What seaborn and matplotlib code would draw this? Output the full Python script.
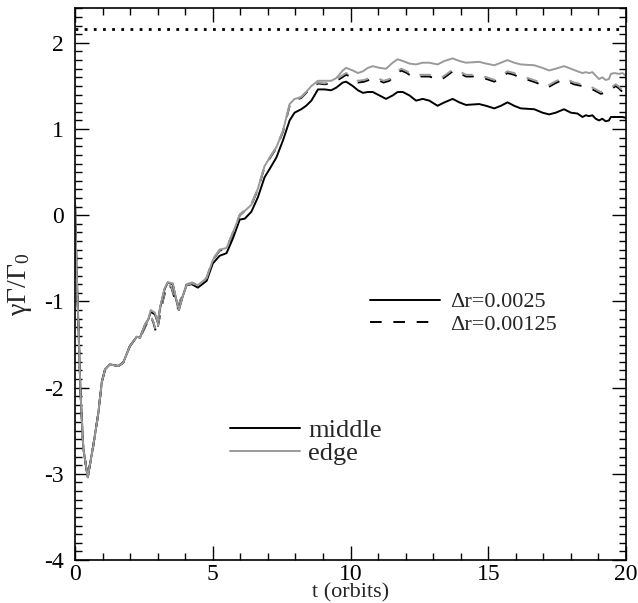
import numpy as np
import pandas as pd
import seaborn as sns
import matplotlib
matplotlib.use("Agg")
import matplotlib.pyplot as plt
from matplotlib.lines import Line2D
from matplotlib.ticker import MultipleLocator

sns.set_style("ticks")
plt.rcParams["font.family"] = ["Liberation Serif", "DejaVu Serif"]
plt.rcParams["mathtext.fontset"] = "custom"
plt.rcParams["mathtext.rm"] = "Liberation Serif"
plt.rcParams["mathtext.it"] = "Liberation Serif:italic"
plt.rcParams["axes.unicode_minus"] = False

# ---- time samples for the dr = 0.0025 runs (orbits)
t_coarse = [
    0.0, 0.05, 0.1, 0.2, 0.3, 0.46, 0.66, 0.85, 0.97, 1.09,
    1.26, 1.57, 1.75, 1.99, 2.24, 2.36, 2.54, 2.66, 2.75, 2.9,
    3.0, 3.1, 3.25, 3.37, 3.55, 3.65, 3.77, 3.9, 4.05, 4.24,
    4.46, 4.78, 5.0, 5.25, 5.5, 5.73, 5.98, 6.16, 6.40, 6.64,
    6.88, 7.07, 7.31, 7.55, 7.79, 7.97, 8.21, 8.39, 8.58, 8.82,
    9.06, 9.30, 9.48, 9.72, 9.84, 10.08, 10.27, 10.45, 10.63, 10.81,
    11.05, 11.29, 11.53, 11.71, 11.9, 12.14, 12.38, 12.62, 12.86, 13.16,
    13.41, 13.71, 13.95, 14.19, 14.67, 14.92, 15.22, 15.46, 15.7, 15.94,
    16.18, 16.67, 16.97, 17.21, 17.45, 17.75, 18.0, 18.24, 18.42, 18.54,
    18.66, 18.78, 18.9, 19.02, 19.14, 19.26, 19.38, 19.45, 19.57, 19.75,
    19.87, 20.0,
]
middle_coarse = [
    0.15, -0.55, -1.05, -2.05, -2.70, -3.04, -2.68, -2.29, -1.94, -1.79,
    -1.73, -1.75, -1.71, -1.52, -1.41, -1.42, -1.27, -1.21, -1.12, -1.15,
    -1.24, -1.06, -0.86, -0.78, -0.80, -0.95, -1.10, -0.95, -0.81, -0.80,
    -0.84, -0.76, -0.56, -0.47, -0.44, -0.27, -0.05, -0.04, 0.04, 0.21,
    0.44, 0.54, 0.67, 0.87, 1.10, 1.19, 1.23, 1.27, 1.33, 1.46,
    1.46, 1.45, 1.48, 1.54, 1.55, 1.50, 1.45, 1.42, 1.43, 1.43,
    1.39, 1.35, 1.39, 1.43, 1.43, 1.39, 1.33, 1.35, 1.33, 1.27,
    1.31, 1.35, 1.31, 1.28, 1.29, 1.27, 1.24, 1.27, 1.31, 1.27,
    1.24, 1.23, 1.19, 1.17, 1.19, 1.23, 1.19, 1.18, 1.14, 1.16,
    1.15, 1.16, 1.12, 1.10, 1.12, 1.09, 1.10, 1.14, 1.14, 1.14,
    1.14, 1.13,
]
edge_coarse = [
    0.15, -0.55, -1.05, -2.05, -2.70, -3.04, -2.68, -2.29, -1.94, -1.79,
    -1.73, -1.75, -1.71, -1.52, -1.41, -1.42, -1.27, -1.21, -1.10, -1.13,
    -1.24, -1.05, -0.85, -0.78, -0.79, -0.94, -1.10, -0.95, -0.81, -0.79,
    -0.81, -0.73, -0.52, -0.40, -0.38, -0.20, 0.00, 0.05, 0.12, 0.31,
    0.57, 0.67, 0.79, 0.98, 1.29, 1.35, 1.37, 1.43, 1.50, 1.56,
    1.56, 1.56, 1.59, 1.68, 1.71, 1.68, 1.65, 1.67, 1.71, 1.73,
    1.71, 1.70, 1.77, 1.81, 1.79, 1.76, 1.75, 1.77, 1.77, 1.75,
    1.79, 1.82, 1.79, 1.77, 1.78, 1.76, 1.74, 1.77, 1.80, 1.77,
    1.75, 1.74, 1.71, 1.68, 1.70, 1.73, 1.70, 1.67, 1.65, 1.66,
    1.65, 1.66, 1.62, 1.58, 1.60, 1.57, 1.58, 1.64, 1.65, 1.64,
    1.65, 1.62,
]

# ---- time samples for the dr = 0.00125 runs (orbits)
t_fine = [
    0.0, 0.05, 0.1, 0.2, 0.3, 0.46, 0.66, 0.85, 0.97, 1.09,
    1.26, 1.57, 1.75, 1.99, 2.24, 2.36, 2.54, 2.66, 2.75, 2.85,
    2.96, 3.05, 3.2, 3.35, 3.5, 3.62, 3.73, 3.9, 4.05, 4.24,
    4.46, 4.78, 5.0, 5.25, 5.5, 5.73, 5.98, 6.16, 6.40, 6.64,
    6.88, 7.07, 7.31, 7.55, 7.79, 7.97, 8.21, 8.39, 8.58, 8.82,
    9.06, 9.24, 9.42, 9.6, 9.84, 10.08, 10.27, 10.5, 10.75, 10.99,
    11.2, 11.41, 11.62, 11.84, 12.05, 12.26, 12.55, 12.86, 13.05, 13.28,
    13.5, 13.75, 13.95, 14.19, 14.45, 14.73, 14.95, 15.22, 15.45, 15.7,
    15.94, 16.18, 16.45, 16.73, 16.95, 17.15, 17.42, 17.69, 17.9, 18.11,
    18.4, 18.66, 18.85, 19.08, 19.25, 19.45, 19.63, 19.75, 19.87, 20.0,
]
middle_fine = [
    0.15, -0.55, -1.05, -2.05, -2.70, -3.04, -2.68, -2.29, -1.94, -1.79,
    -1.73, -1.75, -1.71, -1.52, -1.41, -1.42, -1.30, -1.22, -1.17, -1.25,
    -1.38, -1.22, -0.98, -0.80, -0.84, -0.97, -1.08, -0.92, -0.81, -0.79,
    -0.81, -0.73, -0.52, -0.41, -0.39, -0.21, 0.00, 0.05, 0.12, 0.30,
    0.56, 0.66, 0.78, 0.97, 1.27, 1.34, 1.36, 1.42, 1.48, 1.53,
    1.52, 1.53, 1.56, 1.58, 1.63, 1.60, 1.54, 1.55, 1.58, 1.57,
    1.54, 1.56, 1.63, 1.68, 1.65, 1.60, 1.61, 1.61, 1.59, 1.57,
    1.62, 1.68, 1.65, 1.61, 1.61, 1.60, 1.58, 1.55, 1.60, 1.65,
    1.63, 1.59, 1.57, 1.54, 1.51, 1.48, 1.53, 1.57, 1.55, 1.52,
    1.50, 1.48, 1.45, 1.41, 1.42, 1.46, 1.50, 1.47, 1.43, 1.40,
]
edge_fine = [
    0.15, -0.55, -1.05, -2.05, -2.70, -3.04, -2.68, -2.29, -1.94, -1.79,
    -1.73, -1.75, -1.71, -1.52, -1.41, -1.42, -1.29, -1.21, -1.16, -1.24,
    -1.37, -1.21, -0.97, -0.79, -0.83, -0.96, -1.07, -0.91, -0.80, -0.78,
    -0.80, -0.72, -0.51, -0.40, -0.38, -0.20, 0.01, 0.06, 0.13, 0.31,
    0.57, 0.67, 0.79, 0.98, 1.28, 1.35, 1.37, 1.43, 1.49, 1.54,
    1.53, 1.55, 1.57, 1.60, 1.65, 1.62, 1.56, 1.57, 1.60, 1.59,
    1.56, 1.58, 1.65, 1.70, 1.67, 1.62, 1.63, 1.63, 1.61, 1.59,
    1.64, 1.70, 1.67, 1.63, 1.63, 1.62, 1.60, 1.57, 1.62, 1.67,
    1.65, 1.61, 1.59, 1.56, 1.53, 1.50, 1.55, 1.59, 1.57, 1.54,
    1.52, 1.50, 1.47, 1.43, 1.44, 1.48, 1.52, 1.49, 1.45, 1.42,
]

saturation_level = 2.165

resolutions = ["\u0394r=0.0025", "\u0394r=0.00125"]
locations = ["middle", "edge"]

frames = []
for res, tt, mid, edg in [
    (resolutions[0], t_coarse, middle_coarse, edge_coarse),
    (resolutions[1], t_fine, middle_fine, edge_fine),
]:
    frames.append(pd.DataFrame({"t": tt, "g": mid, "loc": "middle", "res": res}))
    frames.append(pd.DataFrame({"t": tt, "g": edg, "loc": "edge", "res": res}))
df = pd.concat(frames, ignore_index=True)

black = "#000000"
grey = "#9a9a9a"
palette = {"middle": black, "edge": grey}
dash_map = {resolutions[0]: "", resolutions[1]: (6, 6)}

fig = plt.figure(figsize=(6.38, 6.03), dpi=100)
ax = fig.add_axes([75 / 638, 1 - 560 / 603, 551 / 638, (560 - 8.4) / 603])

# draw order: fine runs underneath, grey on top of black
for res in [resolutions[1], resolutions[0]]:
    for loc in ["middle", "edge"]:
        sub = df[(df["res"] == res) & (df["loc"] == loc)]
        sns.lineplot(
            data=sub, x="t", y="g", ax=ax, color=palette[loc],
            estimator=None, sort=False, legend=False, linewidth=1.4,
            dashes=False,
        )
        line = ax.lines[-1]
        line.set_solid_joinstyle("round")
        line.set_dash_joinstyle("round")
        if dash_map[res]:
            line.set_dashes(dash_map[res])

ax.axhline(saturation_level, color="black", linewidth=2.0,
           linestyle=(0, (1, 2.3)))

ax.set_xlim(0, 20)
ax.set_ylim(-4, 2.4)
ax.xaxis.set_major_locator(MultipleLocator(5))
ax.xaxis.set_minor_locator(MultipleLocator(1))
ax.yaxis.set_major_locator(MultipleLocator(1))
ax.yaxis.set_minor_locator(MultipleLocator(0.1))
ax.tick_params(which="both", direction="in", top=True, right=True,
               colors="black", labelsize=17, width=1.0)
ax.tick_params(which="major", length=10)
ax.tick_params(which="minor", length=5)
ax.tick_params(axis="x", which="major", pad=3)
ax.tick_params(axis="y", which="major", pad=8)
for s in ax.spines.values():
    s.set_color("black")
    s.set_linewidth(1.2)

ax.set_xlabel("t (orbits)", fontsize=16)
ax.xaxis.set_label_coords(0.5, -0.042)
ax.xaxis.label.set_va("top")
ax.set_ylabel(r"$\mathregular{\gamma\Gamma/\Gamma_0}$", fontsize=20, labelpad=7)

h1 = [Line2D([], [], color=black, lw=1.4),
      Line2D([], [], color=black, lw=1.4, dashes=(6, 6))]
fs1 = 16
leg1 = ax.legend(h1, resolutions, loc="center left",
                 bbox_to_anchor=(370 / 638, 1 - 313.5 / 603),
                 bbox_transform=fig.transFigure, frameon=False,
                 fontsize=fs1, handlelength=50.4 / fs1,
                 handletextpad=7.2 / fs1, borderpad=0, borderaxespad=0,
                 labelspacing=0.1)
ax.add_artist(leg1)

h2 = [Line2D([], [], color=black, lw=1.4),
      Line2D([], [], color=grey, lw=1.4)]
fs2 = 19
ax.legend(h2, locations, loc="center left",
          bbox_to_anchor=(230 / 638, 1 - 442 / 603),
          bbox_transform=fig.transFigure, frameon=False,
          fontsize=fs2, handlelength=50.4 / fs2,
          handletextpad=5.8 / fs2, borderpad=0, borderaxespad=0,
          labelspacing=0.0)

fig.savefig("out.png", dpi=100)
